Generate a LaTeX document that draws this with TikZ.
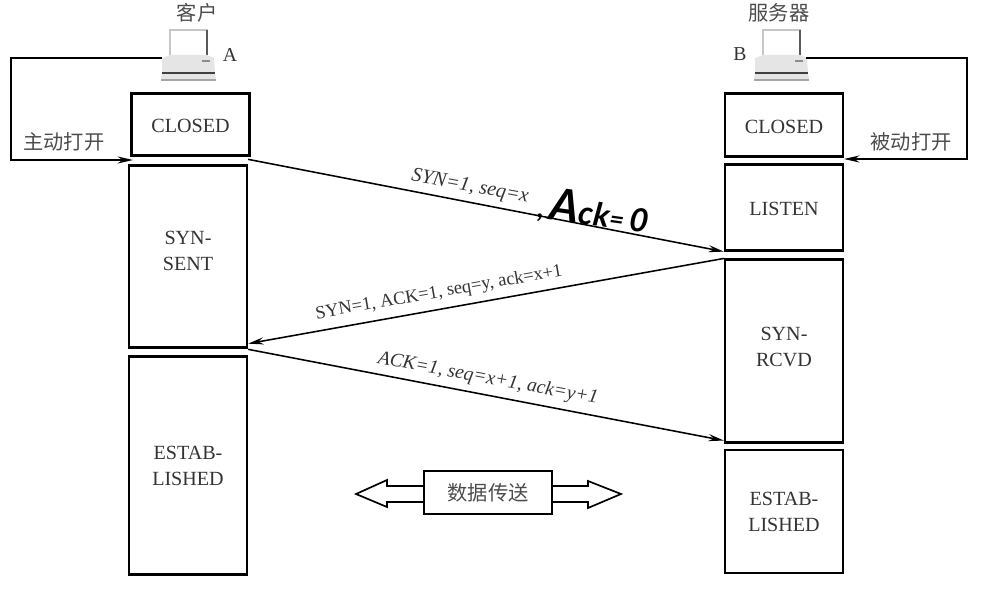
\documentclass[tikz,border=0pt]{standalone}
\usepackage{fontspec}
\setmainfont{Liberation Serif}
\newfontfamily\cjk{Noto Sans CJK SC}
\newfontfamily\hand{Lato}
\usepackage{tikz}
\usetikzlibrary{arrows.meta,calc}

\definecolor{labelgray}{gray}{0.2}
\definecolor{cjkgray}{gray}{0.3}
\tikzset{
    state/.style={draw, line width=1.6pt, minimum width=2.95cm, inner sep=0pt,
        align=center, font=\fontsize{14.3}{18.5}\selectfont, text=labelgray},
    oneline/.style={text height=12pt},
    cnlabel/.style={font=\cjk\fontsize{14.4}{16}\selectfont, text=cjkgray},
    msg/.style={font=\itshape\fontsize{13.9}{16}\selectfont, text=labelgray},
    link/.style={line width=1.1pt, -{Stealth[length=11pt,width=5pt]}},
    pics/computer/.style={code={
        \fill [white, draw=black!22, line width=1pt] (170,55) -- (170,30) -- (207,30) -- (207,55);
        \draw [black!65, line width=0.9pt] (207,30) -- (207,55);
        \fill [black!10] (170,55) -- (207,55) -- (214,58) -- (215,73) -- (216,79) -- (161,79) -- (162,73) -- (162,58) -- cycle;
        \fill [black!45] (202,60) rectangle (210,62.5);
        \draw [black!75, line width=0.8pt] (162,73) -- (215,73);
        \fill [black!35] (161,79) rectangle (216,81.5);
        \coordinate (-left) at (162,58);
        \coordinate (-right) at (213,58);
    }}
}

\begin{document}
\begin{tikzpicture}[x=0.025cm, y=-0.025cm]
\useasboundingbox (0,0) rectangle (987,609);

% the two hosts
\pic (hostA) at (0,0) {computer};
\pic (hostB) at (593,0) {computer};
\node [cnlabel] (client) at (197,13) {客户};
\node [cnlabel] (server) at (779,13) {服务器};
\node [font=\fontsize{14}{16}\selectfont, text=labelgray] (nameA) at (230,55) {A};
\node [font=\fontsize{14}{16}\selectfont, text=labelgray] (nameB) at (740,54) {B};

% states of A
\node [state, oneline, minimum height=1.55cm] (closedA) at (190.5,124.5) {CLOSED};
\node [state, minimum height=4.55cm,
    label={[align=center, font=\fontsize{14.3}{18.5}\selectfont, text=labelgray, yshift=4pt]center:SYN-\\SENT}] (sentA) at (188,256.5) {};
\node [state, minimum height=5.45cm] (estabA) at (188,465.5) {ESTAB-\\LISHED};

% states of B
\node [state, oneline, minimum height=1.57cm] (closedB) at (784,125) {CLOSED};
\node [state, oneline, minimum height=2.15cm] (listenB) at (784,207.5) {LISTEN};
\node [state, minimum height=4.57cm,
    label={[align=center, font=\fontsize{14.3}{18.5}\selectfont, text=labelgray, yshift=2.5pt]center:SYN-\\RCVD}] (rcvdB) at (784,351) {};
\node [state, minimum height=3.07cm] (estabB) at (784,511.5) {ESTAB-\\LISHED};

% opening the connection
\coordinate (openA) at (133,160);
\coordinate (openB) at (844,159);
\draw [link] (hostA-left) -- (11,58) -- (11,160) -- (openA);
\draw [link] (hostB-right) -- (967,58) -- (967,159) -- (openB);
\node [cnlabel] (activeA) at (64,142) {主动打开};
\node [cnlabel] (passiveB) at (911,142) {被动打开};

% the three messages
\draw [link] ($(sentA.north east)+(0,-5)$) -- (listenB.south west);
\draw [link] (rcvdB.north west) -- ($(sentA.south east)+(0,-5)$);
\draw [link] ($(estabA.north east)+(0,-6)$) -- ($(rcvdB.south west)+(0,-3)$);
\node [msg, font=\itshape\fontsize{14.4}{16}\selectfont, rotate=-10.5] (syn) at (470,187) {SYN=1, seq=x};
\node [msg, font=\fontsize{13.1}{16}\selectfont, rotate=10] (synack) at (439,293) {SYN=1, ACK=1, seq=y, ack=x+1};
\node [msg, rotate=-10.4] (ack) at (488,379) {ACK=1, seq=x+1, ack=y+1};
\node [font=\hand\bfseries\itshape\fontsize{23}{28}\selectfont, rotate=-8] (ackzero) at (594,211)
    {{\fontsize{20}{20}\selectfont,}\,{\fontsize{32}{32}\selectfont A}ck{\fontsize{18}{18}\selectfont =}\,0};

% data transfer
\draw [line width=1.2pt] (424,486) -- (387,486) -- (387,480) -- (356,494) -- (387,507) -- (387,502) -- (424,502);
\draw [line width=1.2pt] (552,486) -- (588,486) -- (588,481) -- (621,494) -- (588,508) -- (588,502) -- (552,502);
\node [draw, line width=1.2pt, minimum width=3.2cm, minimum height=1.07cm, cnlabel] (data) at (488,492.5) {数据传送};
\end{tikzpicture}
\end{document}
